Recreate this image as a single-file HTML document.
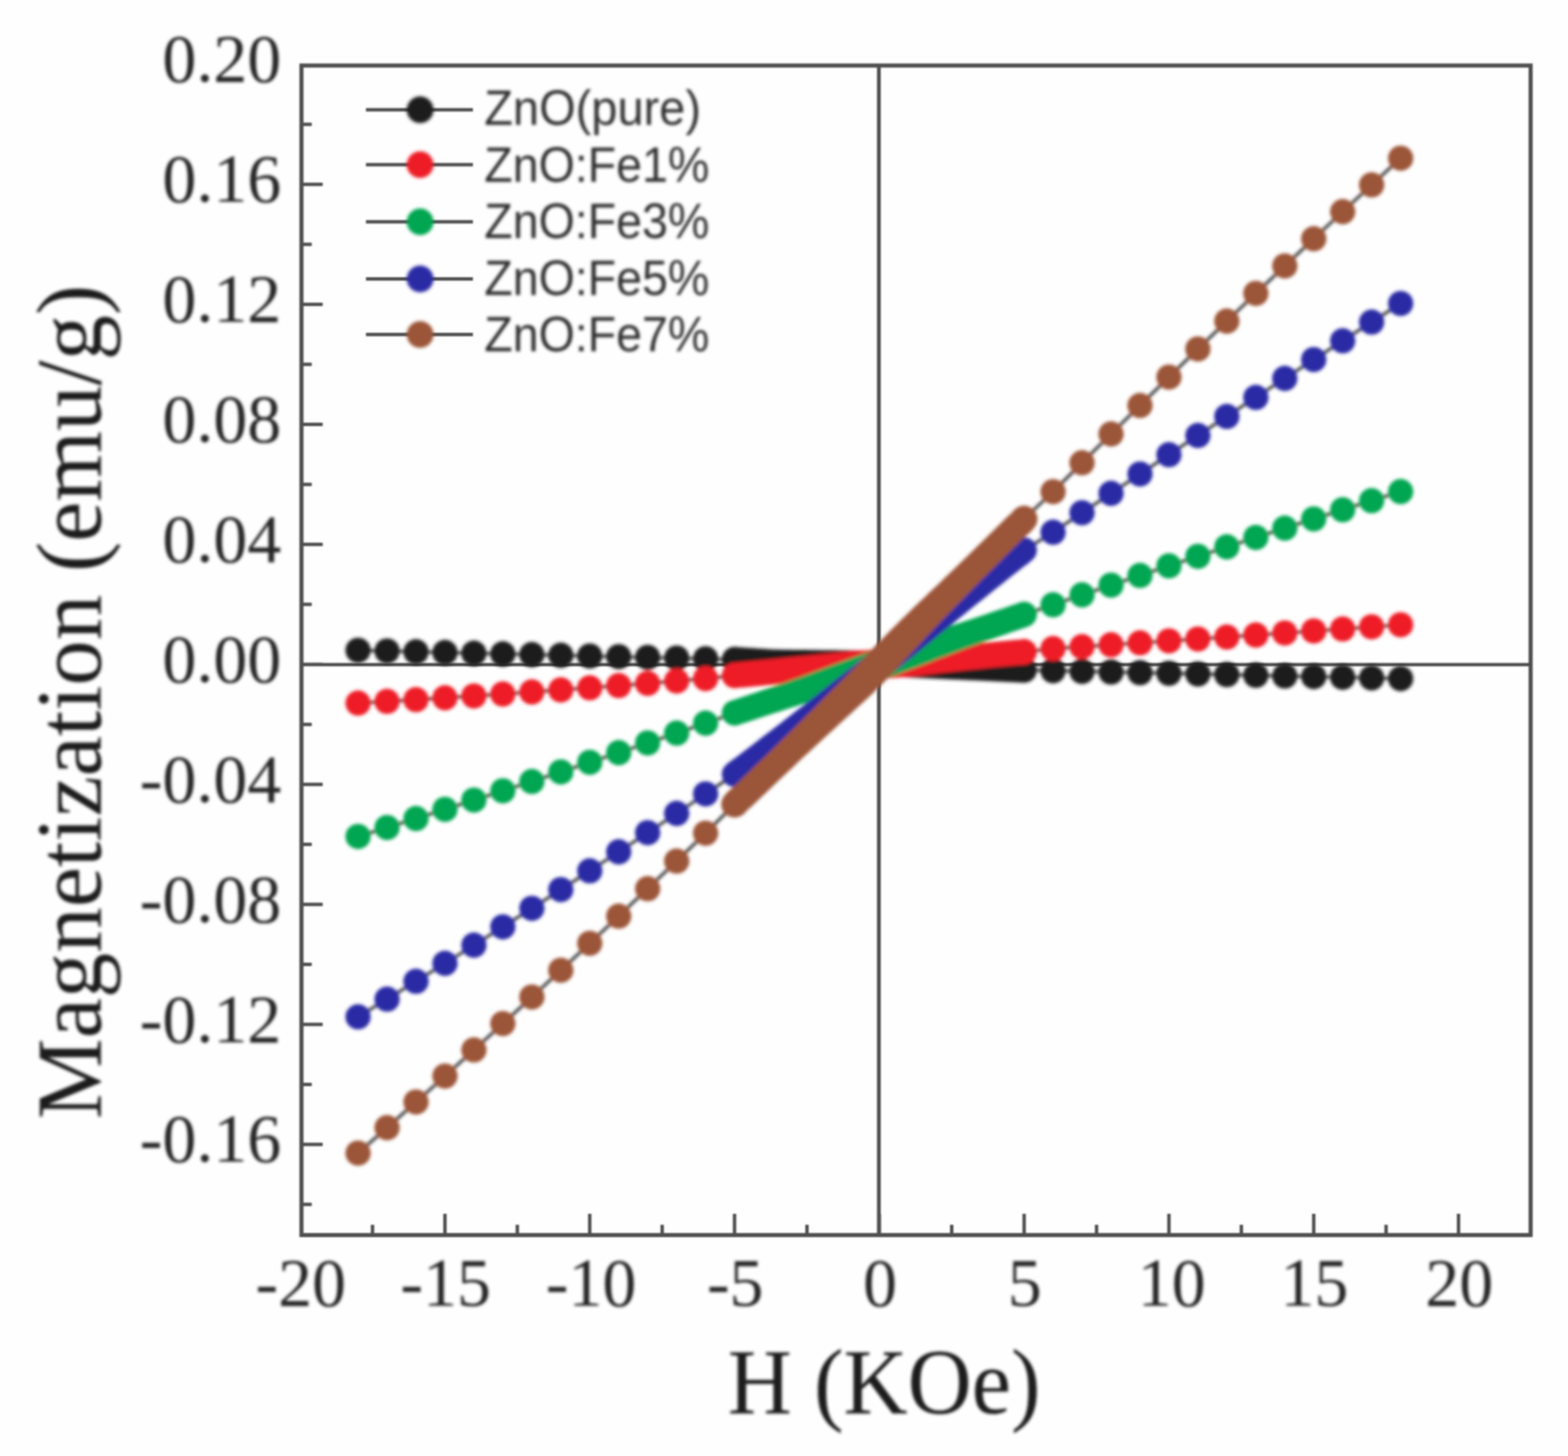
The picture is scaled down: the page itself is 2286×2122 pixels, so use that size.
<!DOCTYPE html>
<html lang="en"><head><meta charset="utf-8"><title>Magnetization vs H</title>
<style>
html,body{margin:0;padding:0;background:#fff;}
body{width:2286px;height:2122px;overflow:hidden;}
svg{display:block;}
.tick{font-family:"Liberation Serif","Times New Roman",serif;font-size:99px;fill:#262626;}
.title{font-family:"Liberation Serif","Times New Roman",serif;font-size:136px;fill:#1e1e1e;}
.leg{font-family:"Liberation Sans",Arial,sans-serif;font-size:73px;fill:#303030;}
</style></head><body>
<svg width="2286" height="2122" viewBox="0 0 2286 2122">
<defs><filter id="b" x="-2%" y="-2%" width="104%" height="104%"><feGaussianBlur stdDeviation="2.4"/></filter><filter id="a" x="-2%" y="-2%" width="104%" height="104%"><feGaussianBlur stdDeviation="1.3"/></filter><filter id="t" x="-2%" y="-2%" width="104%" height="104%"><feGaussianBlur stdDeviation="1.9"/></filter></defs>
<rect width="2286" height="2122" fill="#fefefe"/>
<g filter="url(#a)">

<g stroke="#505050" stroke-width="6" fill="none" stroke-linecap="butt">
<rect x="439.5" y="95.5" width="1792.0" height="1704.5"/>
<line x1="1281.3" y1="95.5" x2="1281.3" y2="1800.0" stroke-width="5.5"/>
<line x1="439.5" y1="968.5999999999999" x2="2231.5" y2="968.5999999999999" stroke-width="4.6" stroke="#4c4c4c"/>
<line x1="543.1" y1="1800.0" x2="543.1" y2="1785.0" stroke-width="5"/>
<line x1="648.7" y1="1800.0" x2="648.7" y2="1769.0" stroke-width="5"/>
<line x1="754.2" y1="1800.0" x2="754.2" y2="1785.0" stroke-width="5"/>
<line x1="859.8" y1="1800.0" x2="859.8" y2="1769.0" stroke-width="5"/>
<line x1="965.4" y1="1800.0" x2="965.4" y2="1785.0" stroke-width="5"/>
<line x1="1070.9" y1="1800.0" x2="1070.9" y2="1769.0" stroke-width="5"/>
<line x1="1176.5" y1="1800.0" x2="1176.5" y2="1785.0" stroke-width="5"/>
<line x1="1282.0" y1="1800.0" x2="1282.0" y2="1769.0" stroke-width="5"/>
<line x1="1387.5" y1="1800.0" x2="1387.5" y2="1785.0" stroke-width="5"/>
<line x1="1493.1" y1="1800.0" x2="1493.1" y2="1769.0" stroke-width="5"/>
<line x1="1598.7" y1="1800.0" x2="1598.7" y2="1785.0" stroke-width="5"/>
<line x1="1704.2" y1="1800.0" x2="1704.2" y2="1769.0" stroke-width="5"/>
<line x1="1809.8" y1="1800.0" x2="1809.8" y2="1785.0" stroke-width="5"/>
<line x1="1915.3" y1="1800.0" x2="1915.3" y2="1769.0" stroke-width="5"/>
<line x1="2020.8" y1="1800.0" x2="2020.8" y2="1785.0" stroke-width="5"/>
<line x1="2126.4" y1="1800.0" x2="2126.4" y2="1769.0" stroke-width="5"/>
<line x1="439.5" y1="1755.3" x2="454.5" y2="1755.3" stroke-width="5"/>
<line x1="439.5" y1="1667.9" x2="470.5" y2="1667.9" stroke-width="5"/>
<line x1="439.5" y1="1580.5" x2="454.5" y2="1580.5" stroke-width="5"/>
<line x1="439.5" y1="1493.0" x2="470.5" y2="1493.0" stroke-width="5"/>
<line x1="439.5" y1="1405.5" x2="454.5" y2="1405.5" stroke-width="5"/>
<line x1="439.5" y1="1318.1" x2="470.5" y2="1318.1" stroke-width="5"/>
<line x1="439.5" y1="1230.6" x2="454.5" y2="1230.6" stroke-width="5"/>
<line x1="439.5" y1="1143.2" x2="470.5" y2="1143.2" stroke-width="5"/>
<line x1="439.5" y1="1055.8" x2="454.5" y2="1055.8" stroke-width="5"/>
<line x1="439.5" y1="968.3" x2="470.5" y2="968.3" stroke-width="5"/>
<line x1="439.5" y1="880.8" x2="454.5" y2="880.8" stroke-width="5"/>
<line x1="439.5" y1="793.4" x2="470.5" y2="793.4" stroke-width="5"/>
<line x1="439.5" y1="706.0" x2="454.5" y2="706.0" stroke-width="5"/>
<line x1="439.5" y1="618.5" x2="470.5" y2="618.5" stroke-width="5"/>
<line x1="439.5" y1="531.0" x2="454.5" y2="531.0" stroke-width="5"/>
<line x1="439.5" y1="443.6" x2="470.5" y2="443.6" stroke-width="5"/>
<line x1="439.5" y1="356.1" x2="454.5" y2="356.1" stroke-width="5"/>
<line x1="439.5" y1="268.7" x2="470.5" y2="268.7" stroke-width="5"/>
<line x1="439.5" y1="181.2" x2="454.5" y2="181.2" stroke-width="5"/>
</g>
<line x1="533.5" y1="160" x2="689.5" y2="160" stroke="#505050" stroke-width="5"/>
<line x1="533.5" y1="240" x2="689.5" y2="240" stroke="#505050" stroke-width="5"/>
<line x1="533.5" y1="323.3" x2="689.5" y2="323.3" stroke="#505050" stroke-width="5"/>
<line x1="533.5" y1="406.5" x2="689.5" y2="406.5" stroke="#505050" stroke-width="5"/>
<line x1="533.5" y1="487.5" x2="689.5" y2="487.5" stroke="#505050" stroke-width="5"/>
</g>
<g filter="url(#b)">
<path d="M522.0,947.8 L564.3,948.8 L606.5,949.9 L648.7,950.9 L690.9,952.0 L733.1,953.0 L775.4,954.0 L817.6,955.0 L859.8,956.1 L902.0,957.1 L944.2,958.1 L986.5,959.1 L1028.7,960.1 L1070.9,961.2 L1081.5,961.9 L1092.0,962.6 L1102.6,963.2 L1113.1,963.9 L1123.7,964.6 L1134.2,965.0 L1144.8,965.2 L1155.3,965.3 L1165.9,965.4 L1176.5,965.5 L1187.0,965.7 L1197.6,965.8 L1208.1,965.9 L1218.7,966.0 L1229.2,966.1 L1239.8,966.3 L1250.3,966.4 L1260.9,966.5 L1271.4,966.9 L1282.0,967.3 L1292.6,967.7 L1303.1,968.0 L1313.7,968.4 L1324.2,968.9 L1334.8,969.4 L1345.3,969.9 L1355.9,970.3 L1366.4,970.8 L1377.0,971.3 L1387.5,971.8 L1398.1,972.3 L1408.7,972.7 L1419.2,973.2 L1429.8,973.7 L1440.3,974.2 L1450.9,974.7 L1461.4,975.2 L1472.0,975.6 L1482.5,976.1 L1493.1,976.6 L1535.3,977.5 L1577.5,978.5 L1619.8,979.4 L1662.0,980.4 L1704.2,981.3 L1746.4,982.3 L1788.6,983.2 L1830.9,984.2 L1873.1,985.2 L1915.3,986.1 L1957.5,987.1 L1999.7,988.0 L2042.0,989.0" fill="none" stroke="#3c3c3c" stroke-width="4.4"/>
<path d="M1069.6,979.6 L1075.0,979.9 L1080.3,980.2 L1085.6,980.6 L1090.8,980.9 L1096.1,981.3 L1101.4,981.6 L1106.7,981.9 L1111.9,982.3 L1117.3,982.6 L1122.7,982.9 L1128.2,983.2 L1133.7,983.4 L1139.2,983.5 L1144.6,983.6 L1149.9,983.6 L1155.1,983.7 L1160.4,983.7 L1165.7,983.8 L1171.0,983.9 L1176.2,983.9 L1181.5,984.0 L1186.8,984.1 L1192.1,984.1 L1197.3,984.2 L1202.6,984.2 L1207.9,984.3 L1213.2,984.4 L1218.5,984.4 L1223.7,984.5 L1229.0,984.5 L1234.3,984.6 L1239.6,984.7 L1244.8,984.7 L1250.1,984.8 L1255.3,984.9 L1260.4,985.0 L1265.6,985.1 L1270.8,985.3 L1276.1,985.5 L1281.3,985.7 L1286.6,985.8 L1291.9,986.0 L1297.2,986.2 L1302.4,986.4 L1307.7,986.6 L1312.9,986.8 L1318.2,987.0 L1323.4,987.3 L1328.7,987.5 L1333.9,987.7 L1339.2,988.0 L1344.5,988.2 L1349.8,988.5 L1355.0,988.7 L1360.3,989.0 L1365.6,989.2 L1370.9,989.4 L1376.2,989.7 L1381.4,989.9 L1386.7,990.2 L1392.0,990.4 L1397.3,990.6 L1402.5,990.9 L1407.8,991.1 L1413.1,991.4 L1418.4,991.6 L1423.7,991.8 L1428.9,992.1 L1434.2,992.3 L1439.5,992.6 L1444.8,992.8 L1450.0,993.1 L1455.3,993.3 L1460.6,993.5 L1465.9,993.8 L1471.2,994.0 L1476.4,994.3 L1481.8,994.5 L1487.0,994.7 L1492.2,995.0 L1494.0,958.2 L1488.7,958.0 L1483.3,957.7 L1478.1,957.5 L1472.8,957.3 L1467.6,957.0 L1462.3,956.8 L1457.0,956.5 L1451.7,956.3 L1446.4,956.0 L1441.2,955.8 L1435.9,955.6 L1430.6,955.3 L1425.3,955.1 L1420.1,954.8 L1414.8,954.6 L1409.5,954.4 L1404.2,954.1 L1398.9,953.9 L1393.7,953.6 L1388.4,953.4 L1383.1,953.2 L1377.8,952.9 L1372.6,952.7 L1367.3,952.4 L1362.0,952.2 L1356.7,952.0 L1351.4,951.7 L1346.2,951.5 L1340.9,951.2 L1335.6,951.0 L1330.3,950.7 L1325.0,950.5 L1319.7,950.3 L1314.4,950.1 L1309.1,949.8 L1303.8,949.7 L1298.5,949.5 L1293.2,949.3 L1287.9,949.1 L1282.7,948.9 L1277.4,948.7 L1272.1,948.5 L1266.7,948.3 L1261.3,948.2 L1255.9,948.1 L1250.6,948.0 L1245.3,947.9 L1240.0,947.9 L1234.7,947.8 L1229.4,947.7 L1224.2,947.7 L1218.9,947.6 L1213.6,947.6 L1208.3,947.5 L1203.0,947.4 L1197.8,947.4 L1192.5,947.3 L1187.2,947.3 L1181.9,947.2 L1176.7,947.1 L1171.4,947.1 L1166.1,947.0 L1160.8,947.0 L1155.6,946.9 L1150.3,946.8 L1145.0,946.8 L1139.8,946.7 L1134.7,946.6 L1129.7,946.4 L1124.7,946.2 L1119.5,945.9 L1114.3,945.6 L1109.0,945.2 L1103.7,944.9 L1098.5,944.5 L1093.2,944.2 L1087.9,943.9 L1082.6,943.5 L1077.4,943.2 L1072.2,942.8Z" fill="#1c1c1c"/>
<circle cx="1070.9" cy="961.2" r="18.4" fill="#1c1c1c"/><circle cx="1493.1" cy="976.6" r="18.4" fill="#1c1c1c"/>
<g fill="#1c1c1c">
<circle cx="522.0" cy="947.8" r="18.4"/>
<circle cx="564.3" cy="948.8" r="18.4"/>
<circle cx="606.5" cy="949.9" r="18.4"/>
<circle cx="648.7" cy="950.9" r="18.4"/>
<circle cx="690.9" cy="952.0" r="18.4"/>
<circle cx="733.1" cy="953.0" r="18.4"/>
<circle cx="775.4" cy="954.0" r="18.4"/>
<circle cx="817.6" cy="955.0" r="18.4"/>
<circle cx="859.8" cy="956.1" r="18.4"/>
<circle cx="902.0" cy="957.1" r="18.4"/>
<circle cx="944.2" cy="958.1" r="18.4"/>
<circle cx="986.5" cy="959.1" r="18.4"/>
<circle cx="1028.7" cy="960.1" r="18.4"/>
<circle cx="1070.9" cy="961.2" r="18.4"/>
<circle cx="1493.1" cy="976.6" r="18.4"/>
<circle cx="1535.3" cy="977.5" r="18.4"/>
<circle cx="1577.5" cy="978.5" r="18.4"/>
<circle cx="1619.8" cy="979.4" r="18.4"/>
<circle cx="1662.0" cy="980.4" r="18.4"/>
<circle cx="1704.2" cy="981.3" r="18.4"/>
<circle cx="1746.4" cy="982.3" r="18.4"/>
<circle cx="1788.6" cy="983.2" r="18.4"/>
<circle cx="1830.9" cy="984.2" r="18.4"/>
<circle cx="1873.1" cy="985.2" r="18.4"/>
<circle cx="1915.3" cy="986.1" r="18.4"/>
<circle cx="1957.5" cy="987.1" r="18.4"/>
<circle cx="1999.7" cy="988.0" r="18.4"/>
<circle cx="2042.0" cy="989.0" r="18.4"/>
</g>
<path d="M522.0,1024.7 L564.3,1022.2 L606.5,1019.7 L648.7,1017.0 L690.9,1014.3 L733.1,1011.5 L775.4,1008.5 L817.6,1005.5 L859.8,1002.4 L902.0,999.2 L944.2,995.9 L986.5,992.5 L1028.7,989.0 L1070.9,984.5 L1081.5,983.5 L1092.0,982.5 L1102.6,981.5 L1113.1,980.5 L1123.7,979.5 L1134.2,978.5 L1144.8,977.5 L1155.3,976.5 L1165.9,975.7 L1176.5,975.0 L1187.0,974.2 L1197.6,973.5 L1208.1,972.7 L1218.7,971.9 L1229.2,971.2 L1239.8,970.4 L1250.3,969.7 L1260.9,969.0 L1271.4,968.4 L1282.0,967.9 L1292.6,967.3 L1303.1,966.7 L1313.7,966.1 L1324.2,965.5 L1334.8,964.5 L1345.3,963.6 L1355.9,962.6 L1366.4,961.6 L1377.0,960.7 L1387.5,959.7 L1398.1,958.7 L1408.7,957.8 L1419.2,956.8 L1429.8,955.8 L1440.3,954.8 L1450.9,953.9 L1461.4,952.9 L1472.0,951.9 L1482.5,951.0 L1493.1,950.0 L1535.3,945.2 L1577.5,942.5 L1619.8,939.7 L1662.0,936.9 L1704.2,934.1 L1746.4,931.3 L1788.6,928.4 L1830.9,925.5 L1873.1,922.6 L1915.3,919.6 L1957.5,916.7 L1999.7,913.6 L2042.0,910.6" fill="none" stroke="#3c3c3c" stroke-width="4.4"/>
<path d="M1072.8,1002.8 L1077.9,1002.3 L1083.1,1001.9 L1088.5,1001.4 L1093.7,1000.9 L1099.0,1000.4 L1104.3,999.9 L1109.6,999.4 L1114.9,998.9 L1120.1,998.5 L1125.4,998.0 L1130.7,997.5 L1136.0,997.1 L1141.3,996.6 L1146.5,996.2 L1151.7,995.7 L1156.9,995.4 L1162.1,995.0 L1167.3,994.7 L1172.5,994.4 L1177.8,994.2 L1183.1,993.9 L1188.4,993.6 L1193.7,993.4 L1199.0,993.1 L1204.3,992.9 L1209.6,992.6 L1214.8,992.4 L1220.1,992.2 L1225.4,991.9 L1230.7,991.7 L1236.0,991.4 L1241.3,991.2 L1246.5,990.9 L1251.7,990.7 L1256.9,990.5 L1262.1,990.2 L1267.4,990.0 L1272.6,989.8 L1277.9,989.5 L1283.2,989.2 L1288.5,988.9 L1293.7,988.6 L1299.0,988.3 L1304.3,987.9 L1309.6,987.5 L1314.9,987.1 L1320.3,986.7 L1325.8,986.2 L1331.2,985.6 L1336.6,985.0 L1341.9,984.4 L1347.2,983.8 L1352.4,983.1 L1357.7,982.5 L1363.0,981.9 L1368.2,981.3 L1373.5,980.6 L1378.8,980.0 L1384.0,979.4 L1389.3,978.8 L1394.6,978.2 L1399.8,977.7 L1405.1,977.1 L1410.4,976.5 L1415.7,976.0 L1420.9,975.4 L1426.2,974.9 L1431.5,974.4 L1436.7,973.8 L1442.0,973.3 L1447.3,972.8 L1452.6,972.3 L1457.8,971.8 L1463.1,971.3 L1468.4,970.8 L1473.7,970.3 L1479.0,969.8 L1484.1,969.3 L1489.5,968.9 L1495.0,968.3 L1491.2,931.7 L1486.1,932.2 L1481.0,932.6 L1475.6,933.1 L1470.3,933.6 L1465.0,934.0 L1459.7,934.5 L1454.5,935.0 L1449.2,935.4 L1443.9,935.9 L1438.6,936.4 L1433.3,936.8 L1428.1,937.3 L1422.8,937.7 L1417.5,938.1 L1412.2,938.5 L1406.9,939.0 L1401.7,939.4 L1396.4,939.8 L1391.1,940.2 L1385.8,940.5 L1380.5,940.9 L1375.2,941.3 L1369.9,941.6 L1364.6,942.0 L1359.3,942.3 L1354.1,942.7 L1348.8,943.0 L1343.5,943.4 L1338.2,943.7 L1332.9,944.0 L1327.8,944.4 L1322.7,944.6 L1317.6,944.9 L1312.5,945.1 L1307.2,945.2 L1301.9,945.5 L1296.6,945.7 L1291.4,945.9 L1286.1,946.2 L1280.8,946.5 L1275.5,946.8 L1270.3,947.1 L1265.0,947.5 L1259.7,947.8 L1254.3,948.2 L1249.0,948.7 L1243.6,949.1 L1238.3,949.6 L1233.0,950.1 L1227.7,950.7 L1222.5,951.2 L1217.2,951.7 L1211.9,952.2 L1206.7,952.8 L1201.4,953.3 L1196.1,953.8 L1190.9,954.3 L1185.6,954.8 L1180.3,955.3 L1175.1,955.8 L1169.8,956.3 L1164.5,956.8 L1159.2,957.2 L1153.8,957.8 L1148.4,958.3 L1143.0,958.8 L1137.7,959.4 L1132.5,959.9 L1127.2,960.5 L1121.9,961.0 L1116.6,961.5 L1111.4,962.1 L1106.1,962.6 L1100.8,963.1 L1095.5,963.6 L1090.3,964.1 L1085.0,964.6 L1079.8,965.1 L1074.4,965.6 L1069.0,966.2Z" fill="#ee1c25"/>
<circle cx="1070.9" cy="984.5" r="18.4" fill="#ee1c25"/><circle cx="1493.1" cy="950.0" r="18.4" fill="#ee1c25"/>
<g fill="#ee1c25">
<circle cx="522.0" cy="1024.7" r="18.4"/>
<circle cx="564.3" cy="1022.2" r="18.4"/>
<circle cx="606.5" cy="1019.7" r="18.4"/>
<circle cx="648.7" cy="1017.0" r="18.4"/>
<circle cx="690.9" cy="1014.3" r="18.4"/>
<circle cx="733.1" cy="1011.5" r="18.4"/>
<circle cx="775.4" cy="1008.5" r="18.4"/>
<circle cx="817.6" cy="1005.5" r="18.4"/>
<circle cx="859.8" cy="1002.4" r="18.4"/>
<circle cx="902.0" cy="999.2" r="18.4"/>
<circle cx="944.2" cy="995.9" r="18.4"/>
<circle cx="986.5" cy="992.5" r="18.4"/>
<circle cx="1028.7" cy="989.0" r="18.4"/>
<circle cx="1070.9" cy="984.5" r="18.4"/>
<circle cx="1493.1" cy="950.0" r="18.4"/>
<circle cx="1535.3" cy="945.2" r="18.4"/>
<circle cx="1577.5" cy="942.5" r="18.4"/>
<circle cx="1619.8" cy="939.7" r="18.4"/>
<circle cx="1662.0" cy="936.9" r="18.4"/>
<circle cx="1704.2" cy="934.1" r="18.4"/>
<circle cx="1746.4" cy="931.3" r="18.4"/>
<circle cx="1788.6" cy="928.4" r="18.4"/>
<circle cx="1830.9" cy="925.5" r="18.4"/>
<circle cx="1873.1" cy="922.6" r="18.4"/>
<circle cx="1915.3" cy="919.6" r="18.4"/>
<circle cx="1957.5" cy="916.7" r="18.4"/>
<circle cx="1999.7" cy="913.6" r="18.4"/>
<circle cx="2042.0" cy="910.6" r="18.4"/>
</g>
<path d="M522.0,1219.1 L564.3,1206.1 L606.5,1192.9 L648.7,1179.6 L690.9,1166.1 L733.1,1152.6 L775.4,1138.9 L817.6,1125.1 L859.8,1111.1 L902.0,1097.0 L944.2,1082.8 L986.5,1068.4 L1028.7,1054.0 L1070.9,1039.1 L1081.5,1035.6 L1092.0,1032.0 L1102.6,1028.5 L1113.1,1025.0 L1123.7,1021.4 L1134.2,1017.9 L1144.8,1014.4 L1155.3,1010.9 L1165.9,1007.3 L1176.5,1003.8 L1187.0,1000.3 L1197.6,996.7 L1208.1,993.2 L1218.7,989.7 L1229.2,986.1 L1239.8,982.6 L1250.3,979.1 L1260.9,975.6 L1271.4,972.0 L1282.0,968.5 L1292.6,964.9 L1303.1,961.2 L1313.7,957.5 L1324.2,953.9 L1334.8,950.2 L1345.3,946.6 L1355.9,943.0 L1366.4,939.3 L1377.0,935.6 L1387.5,932.0 L1398.1,928.4 L1408.7,924.7 L1419.2,921.0 L1429.8,917.4 L1440.3,913.8 L1450.9,910.1 L1461.4,906.5 L1472.0,902.8 L1482.5,899.1 L1493.1,895.5 L1535.3,881.4 L1577.5,867.0 L1619.8,852.8 L1662.0,838.7 L1704.2,824.7 L1746.4,810.8 L1788.6,797.0 L1830.9,783.3 L1873.1,769.7 L1915.3,756.3 L1957.5,742.9 L1999.7,729.7 L2042.0,716.5" fill="none" stroke="#3c3c3c" stroke-width="4.4"/>
<path d="M1077.3,1056.4 L1082.0,1054.6 L1087.0,1053.2 L1092.6,1051.3 L1097.9,1049.5 L1103.1,1047.8 L1108.4,1046.1 L1113.7,1044.3 L1119.0,1042.6 L1124.3,1040.8 L1129.6,1039.1 L1134.9,1037.4 L1140.2,1035.7 L1145.5,1034.0 L1150.8,1032.3 L1156.1,1030.6 L1161.4,1028.9 L1166.7,1027.2 L1172.0,1025.6 L1177.3,1023.9 L1182.6,1022.3 L1188.0,1020.7 L1193.3,1019.1 L1198.6,1017.4 L1204.0,1015.9 L1209.3,1014.3 L1214.6,1012.7 L1220.0,1011.1 L1225.3,1009.5 L1230.6,1007.9 L1236.0,1006.3 L1241.3,1004.8 L1246.6,1003.2 L1252.0,1001.5 L1257.3,999.9 L1262.6,998.3 L1267.9,996.6 L1273.2,994.9 L1278.5,993.2 L1283.9,991.5 L1289.2,989.7 L1294.5,987.8 L1299.8,986.0 L1305.1,984.1 L1310.4,982.2 L1315.6,980.3 L1320.8,978.3 L1326.1,976.3 L1331.3,974.4 L1336.5,972.4 L1341.7,970.4 L1347.0,968.4 L1352.2,966.4 L1357.4,964.4 L1362.6,962.3 L1367.8,960.3 L1373.0,958.3 L1378.2,956.4 L1383.5,954.4 L1388.7,952.4 L1393.9,950.4 L1399.2,948.5 L1404.4,946.5 L1409.6,944.6 L1414.9,942.7 L1420.1,940.8 L1425.4,938.9 L1430.6,937.0 L1435.9,935.1 L1441.1,933.2 L1446.4,931.3 L1451.7,929.5 L1456.9,927.6 L1462.2,925.8 L1467.5,923.9 L1472.8,922.1 L1478.0,920.2 L1483.3,918.4 L1488.3,916.7 L1493.8,914.9 L1499.7,912.7 L1486.5,878.3 L1481.8,880.1 L1476.8,881.6 L1471.2,883.5 L1466.0,885.4 L1460.7,887.2 L1455.4,889.0 L1450.1,890.8 L1444.8,892.6 L1439.5,894.4 L1434.2,896.2 L1428.9,897.9 L1423.7,899.7 L1418.4,901.5 L1413.1,903.2 L1407.8,905.0 L1402.4,906.7 L1397.1,908.5 L1391.8,910.2 L1386.5,911.9 L1381.2,913.6 L1375.9,915.3 L1370.5,916.9 L1365.2,918.6 L1359.9,920.3 L1354.5,921.9 L1349.2,923.6 L1343.8,925.2 L1338.5,926.8 L1333.2,928.5 L1327.8,930.1 L1322.5,931.8 L1317.1,933.4 L1311.8,935.1 L1306.5,936.8 L1301.2,938.5 L1295.9,940.2 L1290.5,942.0 L1285.3,943.7 L1280.0,945.5 L1274.8,947.3 L1269.6,949.0 L1264.3,950.8 L1259.1,952.7 L1253.8,954.5 L1248.6,956.4 L1243.4,958.3 L1238.1,960.2 L1232.9,962.1 L1227.7,964.0 L1222.5,966.0 L1217.3,967.9 L1212.0,969.8 L1206.8,971.8 L1201.6,973.7 L1196.4,975.7 L1191.2,977.6 L1185.9,979.6 L1180.7,981.5 L1175.5,983.4 L1170.3,985.3 L1165.0,987.2 L1159.8,989.1 L1154.6,991.0 L1149.3,992.8 L1144.1,994.7 L1138.8,996.5 L1133.6,998.3 L1128.3,1000.2 L1123.0,1002.0 L1117.8,1003.8 L1112.5,1005.6 L1107.2,1007.4 L1102.0,1009.2 L1096.7,1011.0 L1091.4,1012.8 L1086.2,1014.5 L1080.9,1016.3 L1075.9,1018.0 L1070.3,1019.7 L1064.5,1021.8Z" fill="#00a651"/>
<circle cx="1070.9" cy="1039.1" r="18.4" fill="#00a651"/><circle cx="1493.1" cy="895.5" r="18.4" fill="#00a651"/>
<g fill="#00a651">
<circle cx="522.0" cy="1219.1" r="18.4"/>
<circle cx="564.3" cy="1206.1" r="18.4"/>
<circle cx="606.5" cy="1192.9" r="18.4"/>
<circle cx="648.7" cy="1179.6" r="18.4"/>
<circle cx="690.9" cy="1166.1" r="18.4"/>
<circle cx="733.1" cy="1152.6" r="18.4"/>
<circle cx="775.4" cy="1138.9" r="18.4"/>
<circle cx="817.6" cy="1125.1" r="18.4"/>
<circle cx="859.8" cy="1111.1" r="18.4"/>
<circle cx="902.0" cy="1097.0" r="18.4"/>
<circle cx="944.2" cy="1082.8" r="18.4"/>
<circle cx="986.5" cy="1068.4" r="18.4"/>
<circle cx="1028.7" cy="1054.0" r="18.4"/>
<circle cx="1070.9" cy="1039.1" r="18.4"/>
<circle cx="1493.1" cy="895.5" r="18.4"/>
<circle cx="1535.3" cy="881.4" r="18.4"/>
<circle cx="1577.5" cy="867.0" r="18.4"/>
<circle cx="1619.8" cy="852.8" r="18.4"/>
<circle cx="1662.0" cy="838.7" r="18.4"/>
<circle cx="1704.2" cy="824.7" r="18.4"/>
<circle cx="1746.4" cy="810.8" r="18.4"/>
<circle cx="1788.6" cy="797.0" r="18.4"/>
<circle cx="1830.9" cy="783.3" r="18.4"/>
<circle cx="1873.1" cy="769.7" r="18.4"/>
<circle cx="1915.3" cy="756.3" r="18.4"/>
<circle cx="1957.5" cy="742.9" r="18.4"/>
<circle cx="1999.7" cy="729.7" r="18.4"/>
<circle cx="2042.0" cy="716.5" r="18.4"/>
</g>
<path d="M522.0,1481.9 L564.3,1456.2 L606.5,1430.2 L648.7,1404.0 L690.9,1377.5 L733.1,1350.8 L775.4,1323.8 L817.6,1296.6 L859.8,1269.2 L902.0,1241.5 L944.2,1213.6 L986.5,1185.5 L1028.7,1157.1 L1070.9,1128.4 L1081.5,1120.4 L1092.0,1112.4 L1102.6,1104.4 L1113.1,1096.4 L1123.7,1088.4 L1134.2,1080.4 L1144.8,1072.4 L1155.3,1064.4 L1165.9,1056.4 L1176.5,1048.5 L1187.0,1040.5 L1197.6,1032.5 L1208.1,1024.5 L1218.7,1016.5 L1229.2,1008.5 L1239.8,1000.5 L1250.3,992.5 L1260.9,984.5 L1271.4,976.5 L1282.0,968.5 L1292.6,960.2 L1303.1,951.8 L1313.7,943.5 L1324.2,935.2 L1334.8,926.8 L1345.3,918.5 L1355.9,910.2 L1366.4,901.8 L1377.0,893.5 L1387.5,885.1 L1398.1,876.8 L1408.7,868.5 L1419.2,860.1 L1429.8,851.8 L1440.3,843.5 L1450.9,835.1 L1461.4,826.8 L1472.0,818.5 L1482.5,810.1 L1493.1,801.8 L1535.3,775.7 L1577.5,747.3 L1619.8,719.0 L1662.0,690.8 L1704.2,662.7 L1746.4,634.7 L1788.6,606.9 L1830.9,579.2 L1873.1,551.5 L1915.3,524.1 L1957.5,496.7 L1999.7,469.4 L2042.0,442.3" fill="none" stroke="#3c3c3c" stroke-width="4.4"/>
<path d="M1082.8,1142.5 L1087.3,1138.6 L1092.2,1135.4 L1097.9,1131.1 L1103.2,1127.1 L1108.4,1123.1 L1113.7,1119.1 L1119.0,1115.2 L1124.3,1111.2 L1129.6,1107.2 L1134.9,1103.2 L1140.2,1099.3 L1145.5,1095.3 L1150.8,1091.4 L1156.1,1087.4 L1161.5,1083.5 L1166.8,1079.5 L1172.1,1075.6 L1177.4,1071.7 L1182.8,1067.8 L1188.1,1063.9 L1193.5,1060.0 L1198.9,1056.1 L1204.2,1052.2 L1209.6,1048.3 L1215.0,1044.5 L1220.3,1040.6 L1225.7,1036.8 L1231.1,1032.9 L1236.5,1029.0 L1241.9,1025.2 L1247.2,1021.3 L1252.6,1017.4 L1258.0,1013.5 L1263.3,1009.6 L1268.7,1005.7 L1274.0,1001.8 L1279.3,997.9 L1284.7,993.9 L1290.0,989.9 L1295.4,985.7 L1300.8,981.6 L1306.1,977.3 L1311.3,973.1 L1316.6,968.9 L1321.8,964.6 L1327.0,960.4 L1332.2,956.1 L1337.4,951.8 L1342.6,947.5 L1347.7,943.3 L1352.9,939.0 L1358.1,934.7 L1363.3,930.4 L1368.4,926.1 L1373.6,921.8 L1378.8,917.5 L1384.0,913.2 L1389.2,908.9 L1394.4,904.6 L1399.5,900.3 L1404.8,896.1 L1410.0,891.8 L1415.2,887.6 L1420.4,883.3 L1425.6,879.1 L1430.9,874.9 L1436.1,870.7 L1441.3,866.5 L1446.6,862.3 L1451.8,858.1 L1457.1,853.9 L1462.4,849.7 L1467.6,845.5 L1472.9,841.3 L1478.2,837.1 L1483.4,833.0 L1488.7,828.8 L1493.6,824.9 L1499.2,820.9 L1505.2,815.6 L1481.0,788.0 L1476.4,792.0 L1471.5,795.4 L1465.8,799.8 L1460.6,804.0 L1455.3,808.1 L1450.0,812.3 L1444.7,816.5 L1439.4,820.6 L1434.1,824.7 L1428.8,828.9 L1423.5,833.0 L1418.2,837.2 L1412.9,841.3 L1407.6,845.4 L1402.2,849.5 L1396.9,853.6 L1391.6,857.7 L1386.2,861.8 L1380.9,865.9 L1375.6,870.0 L1370.2,874.0 L1364.8,878.1 L1359.5,882.1 L1354.1,886.2 L1348.7,890.2 L1343.3,894.3 L1337.9,898.3 L1332.6,902.3 L1327.2,906.4 L1321.8,910.4 L1316.4,914.4 L1311.1,918.5 L1305.7,922.5 L1300.3,926.6 L1295.0,930.7 L1289.6,934.8 L1284.3,938.9 L1279.0,943.0 L1273.8,947.1 L1268.6,951.1 L1263.4,955.1 L1258.2,959.1 L1253.0,963.1 L1247.8,967.2 L1242.6,971.2 L1237.3,975.3 L1232.1,979.4 L1227.0,983.5 L1221.8,987.7 L1216.6,991.8 L1211.4,995.9 L1206.2,1000.0 L1201.1,1004.2 L1195.9,1008.3 L1190.7,1012.4 L1185.5,1016.6 L1180.3,1020.7 L1175.2,1024.8 L1170.0,1028.9 L1164.8,1033.0 L1159.6,1037.1 L1154.3,1041.2 L1149.1,1045.3 L1143.9,1049.3 L1138.7,1053.4 L1133.4,1057.5 L1128.2,1061.5 L1123.0,1065.5 L1117.7,1069.6 L1112.4,1073.6 L1107.2,1077.6 L1101.9,1081.7 L1096.7,1085.7 L1091.4,1089.7 L1086.1,1093.7 L1080.9,1097.7 L1075.6,1101.7 L1070.7,1105.4 L1065.1,1109.3 L1059.0,1114.3Z" fill="#2a2aa5"/>
<circle cx="1070.9" cy="1128.4" r="18.4" fill="#2a2aa5"/><circle cx="1493.1" cy="801.8" r="18.4" fill="#2a2aa5"/>
<g fill="#2a2aa5">
<circle cx="522.0" cy="1481.9" r="18.4"/>
<circle cx="564.3" cy="1456.2" r="18.4"/>
<circle cx="606.5" cy="1430.2" r="18.4"/>
<circle cx="648.7" cy="1404.0" r="18.4"/>
<circle cx="690.9" cy="1377.5" r="18.4"/>
<circle cx="733.1" cy="1350.8" r="18.4"/>
<circle cx="775.4" cy="1323.8" r="18.4"/>
<circle cx="817.6" cy="1296.6" r="18.4"/>
<circle cx="859.8" cy="1269.2" r="18.4"/>
<circle cx="902.0" cy="1241.5" r="18.4"/>
<circle cx="944.2" cy="1213.6" r="18.4"/>
<circle cx="986.5" cy="1185.5" r="18.4"/>
<circle cx="1028.7" cy="1157.1" r="18.4"/>
<circle cx="1070.9" cy="1128.4" r="18.4"/>
<circle cx="1493.1" cy="801.8" r="18.4"/>
<circle cx="1535.3" cy="775.7" r="18.4"/>
<circle cx="1577.5" cy="747.3" r="18.4"/>
<circle cx="1619.8" cy="719.0" r="18.4"/>
<circle cx="1662.0" cy="690.8" r="18.4"/>
<circle cx="1704.2" cy="662.7" r="18.4"/>
<circle cx="1746.4" cy="634.7" r="18.4"/>
<circle cx="1788.6" cy="606.9" r="18.4"/>
<circle cx="1830.9" cy="579.2" r="18.4"/>
<circle cx="1873.1" cy="551.5" r="18.4"/>
<circle cx="1915.3" cy="524.1" r="18.4"/>
<circle cx="1957.5" cy="496.7" r="18.4"/>
<circle cx="1999.7" cy="469.4" r="18.4"/>
<circle cx="2042.0" cy="442.3" r="18.4"/>
</g>
<path d="M522.0,1680.6 L564.3,1643.5 L606.5,1606.1 L648.7,1568.3 L690.9,1530.2 L733.1,1491.8 L775.4,1453.1 L817.6,1414.1 L859.8,1374.8 L902.0,1335.2 L944.2,1295.2 L986.5,1254.9 L1028.7,1214.3 L1070.9,1172.2 L1081.5,1162.1 L1092.0,1152.0 L1102.6,1141.8 L1113.1,1131.7 L1123.7,1121.6 L1134.2,1111.5 L1144.8,1101.4 L1155.3,1091.2 L1165.9,1081.1 L1176.5,1071.0 L1187.0,1060.9 L1197.6,1050.8 L1208.1,1040.6 L1218.7,1030.5 L1229.2,1020.4 L1239.8,1010.3 L1250.3,1000.2 L1260.9,990.0 L1271.4,979.2 L1282.0,968.0 L1292.6,957.1 L1303.1,946.2 L1313.7,935.3 L1324.2,924.4 L1334.8,913.5 L1345.3,902.6 L1355.9,892.1 L1366.4,881.6 L1377.0,871.2 L1387.5,860.7 L1398.1,850.3 L1408.7,839.8 L1419.2,829.4 L1429.8,819.0 L1440.3,808.5 L1450.9,798.1 L1461.4,787.6 L1472.0,777.2 L1482.5,766.7 L1493.1,756.3 L1535.3,716.6 L1577.5,674.4 L1619.8,632.5 L1662.0,590.9 L1704.2,549.6 L1746.4,508.6 L1788.6,468.0 L1830.9,427.6 L1873.1,387.6 L1915.3,347.9 L1957.5,308.5 L1999.7,269.4 L2042.0,230.6" fill="none" stroke="#3c3c3c" stroke-width="4.4"/>
<path d="M1085.1,1185.5 L1089.6,1180.6 L1094.5,1176.5 L1100.2,1171.1 L1105.5,1166.0 L1110.8,1161.0 L1116.0,1155.9 L1121.3,1150.9 L1126.6,1145.8 L1131.9,1140.8 L1137.2,1135.7 L1142.5,1130.7 L1147.8,1125.7 L1153.2,1120.7 L1158.5,1115.7 L1163.8,1110.6 L1169.1,1105.6 L1174.5,1100.6 L1179.8,1095.7 L1185.2,1090.7 L1190.5,1085.7 L1195.9,1080.7 L1201.3,1075.8 L1206.7,1070.8 L1212.0,1065.9 L1217.4,1060.9 L1222.8,1056.0 L1228.2,1051.1 L1233.6,1046.1 L1239.0,1041.2 L1244.4,1036.2 L1249.8,1031.3 L1255.2,1026.3 L1260.6,1021.4 L1265.9,1016.4 L1271.4,1011.4 L1276.9,1006.1 L1282.4,1000.6 L1287.9,995.0 L1293.3,989.4 L1298.6,983.9 L1303.8,978.4 L1309.0,973.0 L1314.2,967.5 L1319.4,962.0 L1324.6,956.5 L1329.8,951.0 L1335.0,945.4 L1340.2,939.9 L1345.4,934.3 L1350.5,928.8 L1355.6,923.3 L1360.7,917.8 L1365.8,912.5 L1370.9,907.1 L1376.0,901.8 L1381.2,896.5 L1386.3,891.2 L1391.5,885.8 L1396.7,880.5 L1401.9,875.2 L1407.1,869.9 L1412.3,864.6 L1417.5,859.3 L1422.7,854.0 L1427.9,848.7 L1433.1,843.5 L1438.4,838.2 L1443.6,832.9 L1448.9,827.7 L1454.1,822.4 L1459.4,817.2 L1464.6,812.0 L1469.9,806.7 L1475.1,801.5 L1480.4,796.2 L1485.7,791.0 L1490.9,785.8 L1495.8,780.9 L1501.5,775.9 L1507.5,769.4 L1478.7,743.2 L1474.2,748.3 L1469.3,752.5 L1463.6,758.1 L1458.3,763.4 L1453.0,768.6 L1447.7,773.8 L1442.4,779.0 L1437.1,784.2 L1431.8,789.4 L1426.5,794.6 L1421.2,799.8 L1415.9,805.0 L1410.6,810.2 L1405.3,815.3 L1400.0,820.5 L1394.6,825.7 L1389.3,830.8 L1383.9,836.0 L1378.6,841.1 L1373.2,846.3 L1367.9,851.4 L1362.5,856.5 L1357.1,861.6 L1351.7,866.7 L1346.3,871.9 L1340.9,877.0 L1335.4,882.2 L1329.9,887.5 L1324.5,892.9 L1319.0,898.2 L1313.6,903.6 L1308.2,908.9 L1302.9,914.3 L1297.5,919.6 L1292.1,925.0 L1286.8,930.4 L1281.5,935.8 L1276.1,941.2 L1270.8,946.7 L1265.4,952.3 L1260.1,957.9 L1254.9,963.4 L1249.9,968.7 L1244.9,973.8 L1239.9,978.8 L1234.7,983.9 L1229.6,989.1 L1224.4,994.2 L1219.2,999.4 L1214.0,1004.6 L1208.9,1009.8 L1203.7,1014.9 L1198.6,1020.1 L1193.4,1025.3 L1188.2,1030.5 L1183.1,1035.7 L1177.9,1040.8 L1172.7,1046.0 L1167.5,1051.2 L1162.4,1056.3 L1157.2,1061.5 L1152.0,1066.6 L1146.8,1071.7 L1141.5,1076.8 L1136.3,1082.0 L1131.1,1087.1 L1125.9,1092.2 L1120.6,1097.3 L1115.4,1102.4 L1110.1,1107.5 L1104.9,1112.5 L1099.6,1117.6 L1094.3,1122.7 L1089.1,1127.8 L1083.8,1132.8 L1078.5,1137.9 L1073.3,1143.0 L1068.4,1147.7 L1062.7,1152.6 L1056.7,1158.9Z" fill="#9b5537"/>
<circle cx="1070.9" cy="1172.2" r="19.4" fill="#9b5537"/><circle cx="1493.1" cy="756.3" r="19.4" fill="#9b5537"/>
<g fill="#9b5537">
<circle cx="522.0" cy="1680.6" r="18.4"/>
<circle cx="564.3" cy="1643.5" r="18.4"/>
<circle cx="606.5" cy="1606.1" r="18.4"/>
<circle cx="648.7" cy="1568.3" r="18.4"/>
<circle cx="690.9" cy="1530.2" r="18.4"/>
<circle cx="733.1" cy="1491.8" r="18.4"/>
<circle cx="775.4" cy="1453.1" r="18.4"/>
<circle cx="817.6" cy="1414.1" r="18.4"/>
<circle cx="859.8" cy="1374.8" r="18.4"/>
<circle cx="902.0" cy="1335.2" r="18.4"/>
<circle cx="944.2" cy="1295.2" r="18.4"/>
<circle cx="986.5" cy="1254.9" r="18.4"/>
<circle cx="1028.7" cy="1214.3" r="18.4"/>
<circle cx="1070.9" cy="1172.2" r="18.4"/>
<circle cx="1493.1" cy="756.3" r="18.4"/>
<circle cx="1535.3" cy="716.6" r="18.4"/>
<circle cx="1577.5" cy="674.4" r="18.4"/>
<circle cx="1619.8" cy="632.5" r="18.4"/>
<circle cx="1662.0" cy="590.9" r="18.4"/>
<circle cx="1704.2" cy="549.6" r="18.4"/>
<circle cx="1746.4" cy="508.6" r="18.4"/>
<circle cx="1788.6" cy="468.0" r="18.4"/>
<circle cx="1830.9" cy="427.6" r="18.4"/>
<circle cx="1873.1" cy="387.6" r="18.4"/>
<circle cx="1915.3" cy="347.9" r="18.4"/>
<circle cx="1957.5" cy="308.5" r="18.4"/>
<circle cx="1999.7" cy="269.4" r="18.4"/>
<circle cx="2042.0" cy="230.6" r="18.4"/>
</g>
<circle cx="612.5" cy="160" r="19.5" fill="#1c1c1c"/>
<circle cx="612.5" cy="240" r="19.5" fill="#ee1c25"/>
<circle cx="612.5" cy="323.3" r="19.5" fill="#00a651"/>
<circle cx="612.5" cy="406.5" r="19.5" fill="#2a2aa5"/>
<circle cx="612.5" cy="487.5" r="19.5" fill="#9b5537"/>
</g>
<g filter="url(#t)">
<text class="tick" x="410" y="1693.4" text-anchor="end">-0.16</text>
<text class="tick" x="410" y="1518.5" text-anchor="end">-0.12</text>
<text class="tick" x="410" y="1343.6" text-anchor="end">-0.08</text>
<text class="tick" x="410" y="1168.7" text-anchor="end">-0.04</text>
<text class="tick" x="410" y="993.8" text-anchor="end">0.00</text>
<text class="tick" x="410" y="818.9" text-anchor="end">0.04</text>
<text class="tick" x="410" y="644.0" text-anchor="end">0.08</text>
<text class="tick" x="410" y="469.1" text-anchor="end">0.12</text>
<text class="tick" x="410" y="294.2" text-anchor="end">0.16</text>
<text class="tick" x="410" y="119.3" text-anchor="end">0.20</text>
<text class="tick" x="438.6" y="1903" text-anchor="middle">-20</text>
<text class="tick" x="649.7" y="1903" text-anchor="middle">-15</text>
<text class="tick" x="861.8" y="1903" text-anchor="middle">-10</text>
<text class="tick" x="1071.9" y="1903" text-anchor="middle">-5</text>
<text class="tick" x="1283.0" y="1903" text-anchor="middle">0</text>
<text class="tick" x="1494.1" y="1903" text-anchor="middle">5</text>
<text class="tick" x="1708.2" y="1903" text-anchor="middle">10</text>
<text class="tick" x="1916.3" y="1903" text-anchor="middle">15</text>
<text class="tick" x="2127.4" y="1903" text-anchor="middle">20</text>
<text class="title" x="1061" y="2060" textLength="456" lengthAdjust="spacingAndGlyphs">H (KOe)</text>
<text class="title" transform="translate(147,1631) rotate(-90)" textLength="1216" lengthAdjust="spacingAndGlyphs">Magnetization (emu/g)</text>
<text class="leg" x="706" y="181.5" textLength="316" lengthAdjust="spacingAndGlyphs">ZnO(pure)</text>
<text class="leg" x="706" y="264.5" textLength="328" lengthAdjust="spacingAndGlyphs">ZnO:Fe1%</text>
<text class="leg" x="706" y="347.3" textLength="328" lengthAdjust="spacingAndGlyphs">ZnO:Fe3%</text>
<text class="leg" x="706" y="430.0" textLength="328" lengthAdjust="spacingAndGlyphs">ZnO:Fe5%</text>
<text class="leg" x="706" y="511.5" textLength="328" lengthAdjust="spacingAndGlyphs">ZnO:Fe7%</text>
</g></svg></body></html>
